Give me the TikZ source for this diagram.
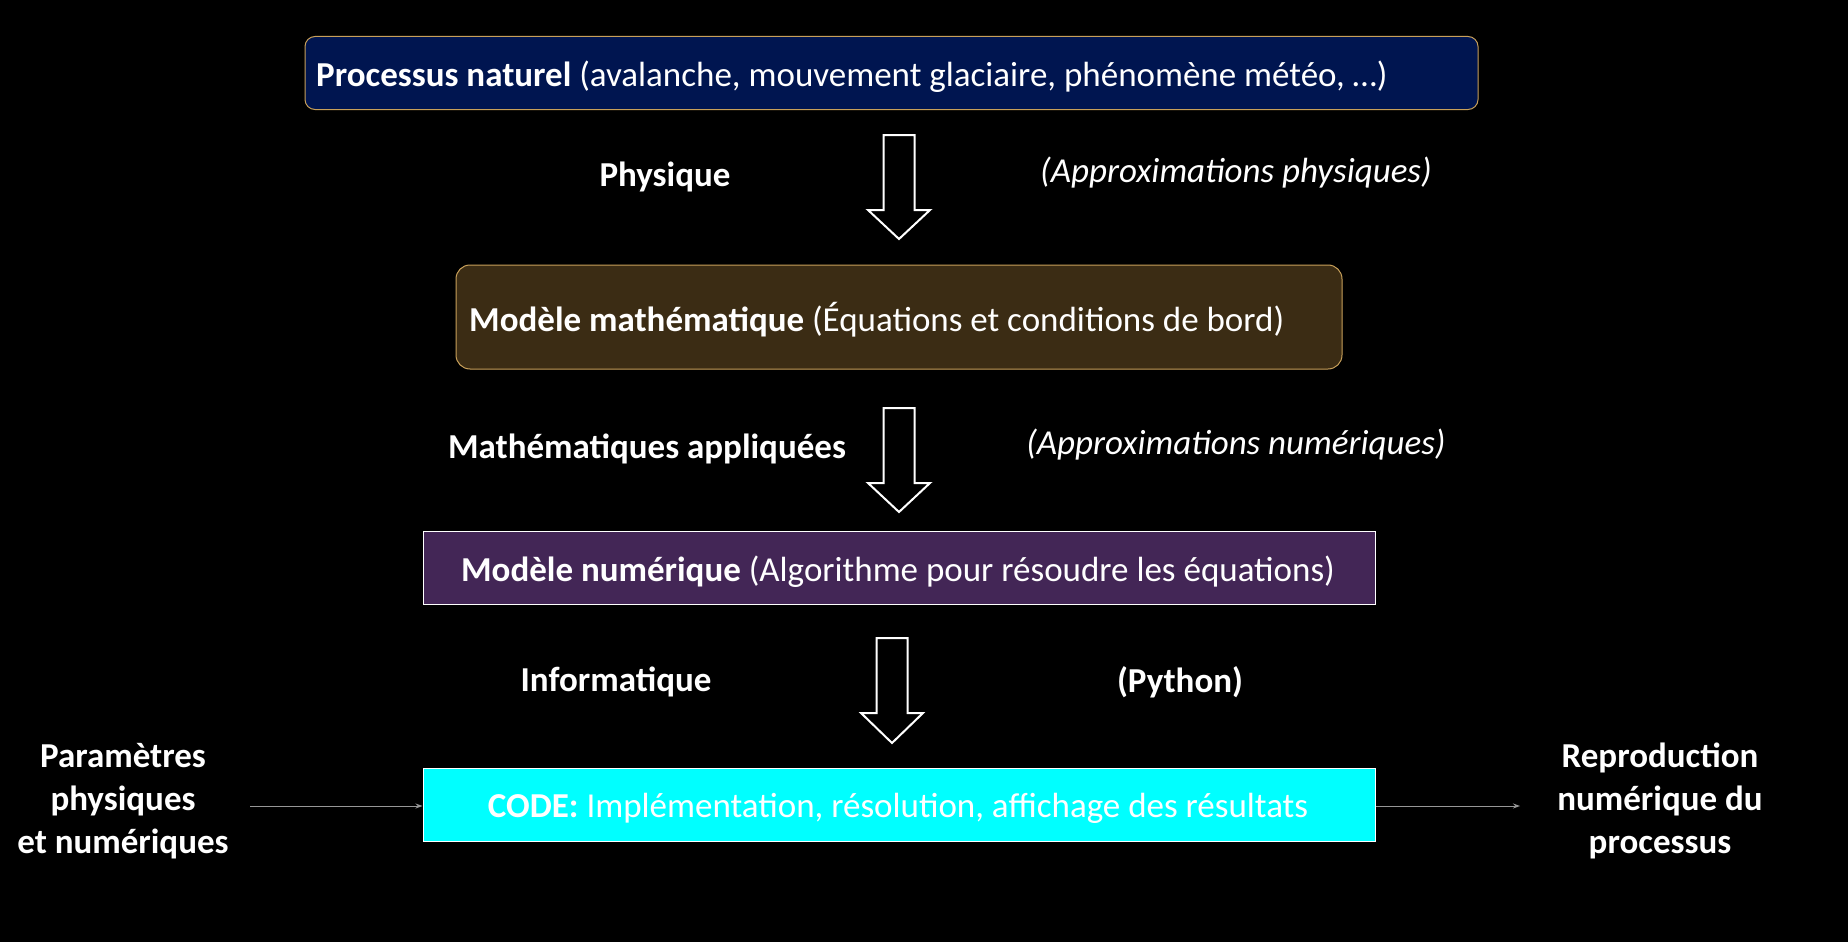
\documentclass[tikz,border=0pt]{standalone}
\usepackage{fontspec}
\setmainfont{Carlito}
\usetikzlibrary{arrows.meta}
\definecolor{navybox}{RGB}{0,21,80}
\definecolor{brownbox}{RGB}{59,44,20}
\definecolor{purplebox}{RGB}{67,38,86}
\definecolor{cyanbox}{RGB}{0,255,255}
\definecolor{goldline}{RGB}{200,160,90}
\definecolor{greyline}{RGB}{150,150,150}
\newcommand\blockdown[6]{% cx, top, shaft half, head half, head start, tip
  \draw[white, line width=2pt, fill=black, line join=miter]
    (#1-#3,#2) -- (#1+#3,#2) -- (#1+#3,#5) -- (#1+#4,#5) -- (#1,#6)
    -- (#1-#4,#5) -- (#1-#3,#5) -- cycle;}
\begin{document}
\begin{tikzpicture}[x=1pt,y=-1pt,
  every node/.style={text=white, inner sep=0pt, font=\fontsize{35}{42}\selectfont},
  box/.style={draw, line width=1pt, minimum height=73pt},
  lbl/.style={font=\fontsize{35}{42}\selectfont\bfseries},
  ital/.style={font=\fontsize{35}{42}\selectfont\itshape},
  side/.style={font=\fontsize{35}{43}\selectfont\bfseries, align=center},
  thin arrow/.style={draw=greyline, line width=1pt, -{Stealth[length=7pt,width=5pt]}}
]
\fill[black] (0,0) rectangle (1848,942);
\useasboundingbox (0,0) rectangle (1848,942);

\node[box, draw=goldline, fill=navybox, rounded corners=10pt, minimum width=1173pt] (nat) at (891.5,73) {};
\node[anchor=west] (natt) at (316,76.5)
  {\textbf{Processus naturel} (avalanche, mouvement glaciaire, phénomène météo, …)};

\node[box, draw=goldline, fill=brownbox, rounded corners=14pt, minimum height=104pt, minimum width=886pt] (math) at (899,317) {};
\node[anchor=west] (matht) at (469,319.5)
  {\textbf{Modèle mathématique} (Équations et conditions de bord)};

\node[box, draw=white, fill=purplebox, minimum width=952pt] (num) at (899,568) {};
\node (numt) at (898,572)
  {\textbf{Modèle numérique} (Algorithme pour résoudre les équations)};

\node[box, draw=white, fill=cyanbox, minimum width=952pt] (code) at (899,805) {};
\node (codet) at (898,808)
  {\textbf{CODE:} Implémentation, résolution, affichage des résultats};

\blockdown{899}{135}{15.5}{31}{210}{239}
\blockdown{899}{408}{15.5}{31}{483}{512}
\blockdown{892}{638}{15.5}{31}{713}{743}

\node[lbl] (phys) at (665,177) {Physique};
\node[ital] (apphys) at (1236,173) {(Approximations physiques)};
\node[lbl] (mathapp) at (647,449) {Mathématiques appliquées};
\node[ital] (apnum) at (1236,445) {(Approximations numériques)};
\node[lbl] (info) at (616,682) {Informatique};
\node[lbl] (py) at (1180,682) {(Python)};

\node[side] (params) at (123,801) {Paramètres\\physiques\\et numériques};
\node[side] (repro) at (1660,801) {Reproduction\\numérique du\\processus};

\coordinate (pin) at (250,806);
\coordinate (pout) at (1520,806);
\draw[thin arrow] (pin) -- (code.west |- pin);
\draw[thin arrow] (code.east |- pout) -- (pout);
\end{tikzpicture}
\end{document}
